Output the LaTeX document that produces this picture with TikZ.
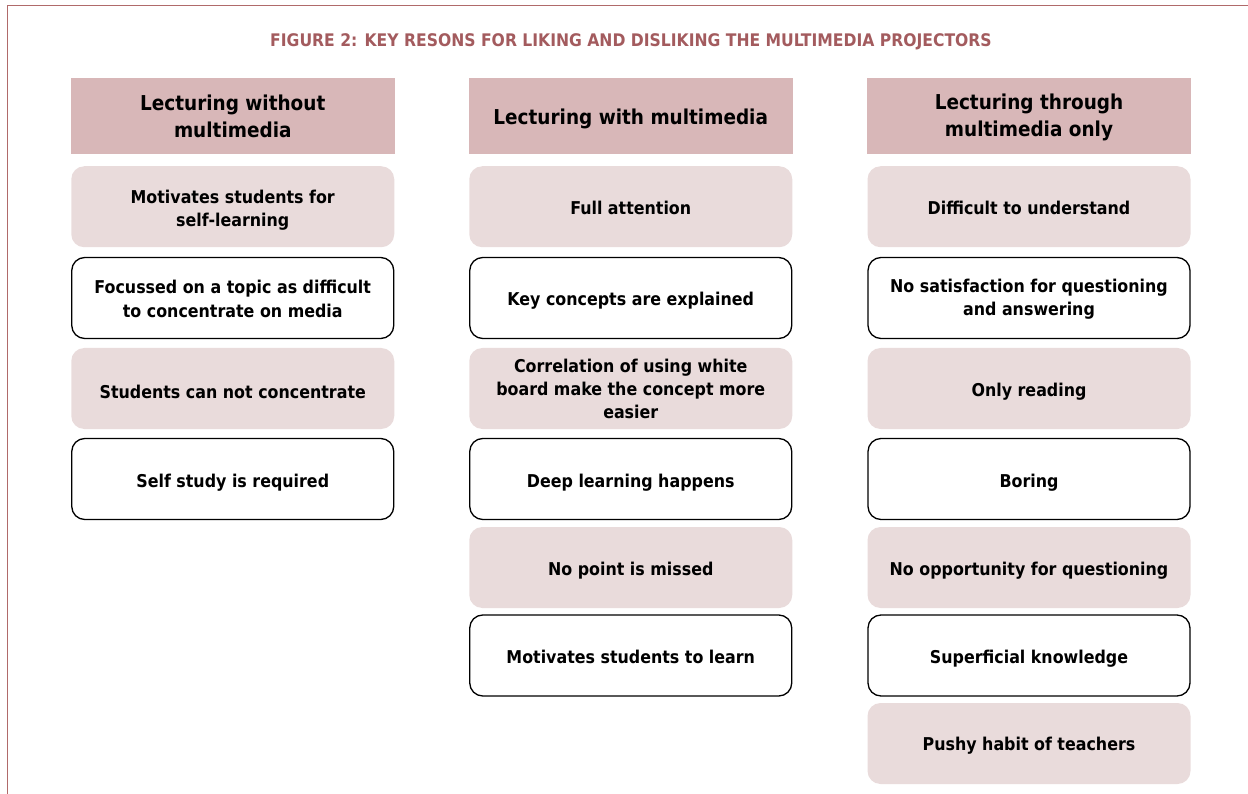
\documentclass[tikz,border=0pt]{standalone}
\usepackage{fontspec}
\setmainfont{DejaVu Sans Condensed}
\definecolor{framecol}{HTML}{B06A6A}
\definecolor{titlecol}{HTML}{A35B5E}
\definecolor{hdrfill}{HTML}{D8B7B8}
\definecolor{lightfill}{HTML}{E9DBDB}
\tikzset{
  hdr/.style={rectangle, fill=hdrfill, minimum width=324pt, minimum height=76pt, inner sep=0pt},
  hdrtext/.style={inner sep=0pt, align=center, font=\fontsize{20.5}{27}\selectfont\bfseries},
  filledbox/.style={rectangle, rounded corners=13pt, fill=lightfill, minimum width=323pt, minimum height=81pt, inner sep=0pt},
  outlinebox/.style={rectangle, rounded corners=13pt, draw=black, line width=1.3pt, fill=white, minimum width=322pt, minimum height=81pt, inner sep=0pt},
  bodytext/.style={inner sep=0pt, align=center, font=\fontsize{17.65}{23.3}\selectfont\bfseries},
}
\begin{document}
\begin{tikzpicture}[x=1pt,y=-1pt]
\useasboundingbox (0,0) rectangle (1248,794);
\coordinate (fb) at (7.5,794);
\coordinate (fc) at (7.5,5.5);
\coordinate (fr) at (1248,5.5);
\draw[framecol, line width=1.3pt] (fb) -- (fc) -- (fr);
\node[text=titlecol, inner sep=0pt, font=\fontsize{17.35}{21}\selectfont\bfseries] (title) at (631,42) {FIGURE 2: KEY RESONS FOR LIKING AND DISLIKING THE MULTIMEDIA PROJECTORS};
% headers
\node[hdr] (h1) at (232.75,116) {};
\node[hdrtext] (h1t) at ([yshift=0pt]h1.center) {Lecturing without\\multimedia};
\node[hdr] (h2) at (630.75,116) {};
\node[hdrtext] (h2t) at ([yshift=-3pt]h2.center) {Lecturing with multimedia};
\node[hdr] (h3) at (1029,116) {};
\node[hdrtext] (h3t) at ([yshift=-1pt]h3.center) {Lecturing through\\multimedia only};
% column 1
\node[filledbox] (a1) at (232.75,206.75) {};
\node[bodytext] (a1t) at ([yshift=-3.5pt]a1.center) {Motivates students for\\self-learning};
\node[outlinebox] (a2) at (232.75,298) {};
\node[bodytext] (a2t) at ([yshift=-1pt]a2.center) {Focussed on a topic as difficult\\to concentrate on media};
\node[filledbox] (a3) at (232.75,388.5) {};
\node[bodytext] (a3t) at ([yshift=-3pt]a3.center) {Students can not concentrate};
\node[outlinebox] (a4) at (232.75,479) {};
\node[bodytext] (a4t) at ([yshift=-3.5pt]a4.center) {Self study is required};
% column 2
\node[filledbox] (b1) at (630.75,206.75) {};
\node[bodytext] (b1t) at ([yshift=-1.5pt]b1.center) {Full attention};
\node[outlinebox] (b2) at (630.75,298) {};
\node[bodytext] (b2t) at ([yshift=-3pt]b2.center) {Key concepts are explained};
\node[filledbox] (b3) at (630.75,388.5) {};
\node[bodytext] (b3t) at ([yshift=-0.5pt]b3.center) {Correlation of using white\\board make the concept more\\easier};
\node[outlinebox] (b4) at (630.75,479) {};
\node[bodytext] (b4t) at ([yshift=-3.5pt]b4.center) {Deep learning happens};
\node[filledbox] (b5) at (630.75,567.5) {};
\node[bodytext] (b5t) at ([yshift=-3pt]b5.center) {No point is missed};
\node[outlinebox] (b6) at (630.75,655.5) {};
\node[bodytext] (b6t) at ([yshift=-1.5pt]b6.center) {Motivates students to learn};
% column 3
\node[filledbox] (c1) at (1029,206.75) {};
\node[bodytext] (c1t) at ([yshift=-1.5pt]c1.center) {Difficult to understand};
\node[outlinebox] (c2) at (1029,298) {};
\node[bodytext] (c2t) at ([yshift=-1.5pt]c2.center) {No satisfaction for questioning\\and answering};
\node[filledbox] (c3) at (1029,388.5) {};
\node[bodytext] (c3t) at ([yshift=-3pt]c3.center) {Only reading};
\node[outlinebox] (c4) at (1029,479) {};
\node[bodytext] (c4t) at ([yshift=-3.5pt]c4.center) {Boring};
\node[filledbox] (c5) at (1029,567.5) {};
\node[bodytext] (c5t) at ([yshift=-3pt]c5.center) {No opportunity for questioning};
\node[outlinebox] (c6) at (1029,655.5) {};
\node[bodytext] (c6t) at ([yshift=-3pt]c6.center) {Superficial knowledge};
\node[filledbox] (c7) at (1029,743.5) {};
\node[bodytext] (c7t) at ([yshift=-2.5pt]c7.center) {Pushy habit of teachers};
\end{tikzpicture}
\end{document}
